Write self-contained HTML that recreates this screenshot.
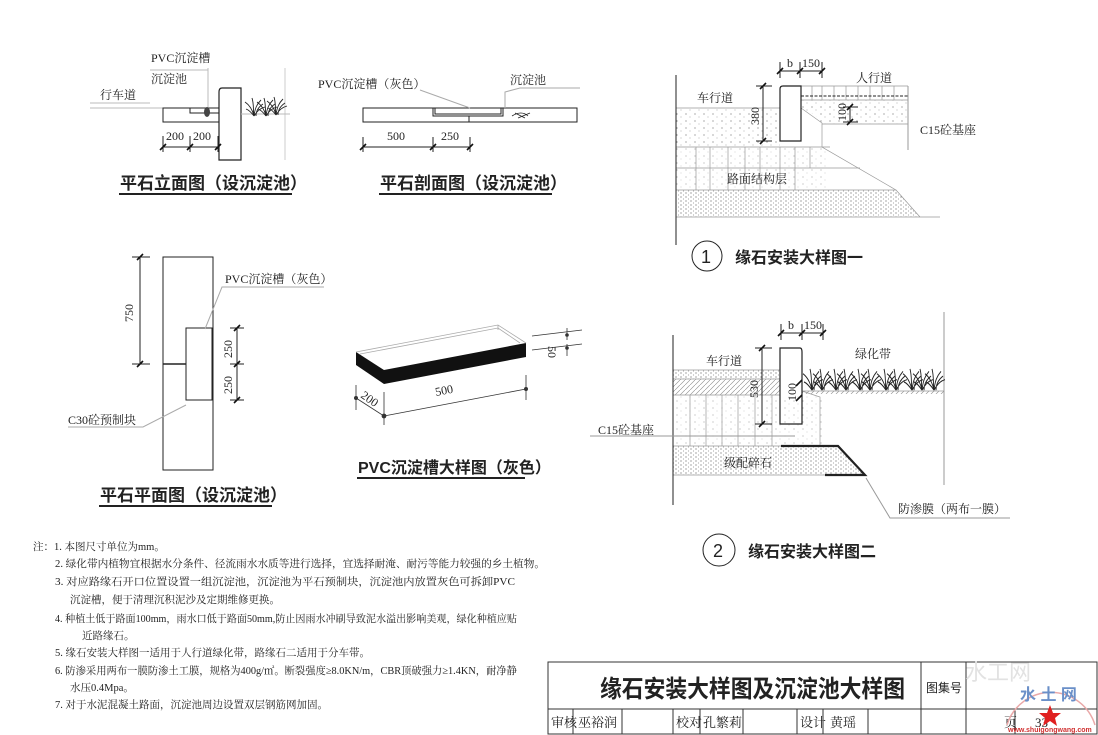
<!DOCTYPE html>
<html><head><meta charset="utf-8"><style>
html,body{margin:0;padding:0;background:#fff}
svg{display:block}
text{font-family:"Liberation Serif","Noto Serif CJK SC",serif;fill:#222}
.s{font-family:"Liberation Sans","Noto Sans CJK SC",sans-serif}
</style></head><body>
<svg width="1098" height="735" viewBox="0 0 1098 735" xmlns="http://www.w3.org/2000/svg">
<defs>
<pattern id="dots" width="9" height="7" patternUnits="userSpaceOnUse"><circle cx="2" cy="2" r="0.6" fill="#777"/><circle cx="6" cy="5" r="0.5" fill="#999"/></pattern>
<pattern id="dense" width="5" height="4" patternUnits="userSpaceOnUse"><circle cx="1" cy="1" r="0.6" fill="#666"/><circle cx="3.5" cy="3" r="0.5" fill="#888"/></pattern>
<pattern id="hatch" width="5" height="5" patternUnits="userSpaceOnUse"><path d="M0 5L5 0" stroke="#888" stroke-width="0.6"/></pattern>
<g id="tick"><path d="M-3 3L3 -3" stroke="#111" stroke-width="1.6"/></g>
<g id="grass" stroke="#222" stroke-width="0.9" fill="none"><path d="M0 0C-2-8-6-12-9-14M0 0C1-8 3-12 7-16M0 0C-1-6 0-12-2-18M0 0C3-5 7-8 11-9M0 0C-3-4-5-6-8-7M2 0C2-6 6-10 9-12"/></g>
</defs>

<!-- Fig 1 -->
<g fill="none" stroke="#222" stroke-width="1">
<line x1="90" y1="108" x2="163" y2="108" stroke="#bbb"/>
<rect x="163" y="108" width="56" height="14"/>
<path d="M190 108V113H219" />
<path d="M222 88H241V160H219V92Q219 88 222 88Z" stroke-width="1.2"/>
<line x1="150" y1="103" x2="90" y2="103" stroke="#bbb"/>
<line x1="208" y1="68" x2="208" y2="108" stroke="#bbb"/>
<line x1="150" y1="70" x2="208" y2="70" stroke="#bbb"/>
<line x1="163" y1="147" x2="218" y2="147"/>
<line x1="163" y1="136" x2="163" y2="152"/><line x1="190" y1="136" x2="190" y2="152"/><line x1="218" y1="136" x2="218" y2="152"/>
<line x1="285" y1="68" x2="285" y2="160" stroke="#ccc"/>
<line x1="241" y1="114" x2="290" y2="114" stroke="#bbb"/>
</g>
<ellipse cx="207" cy="112" rx="3" ry="5" fill="#444"/>
<use href="#tick" x="163" y="147"/><use href="#tick" x="190" y="147"/><use href="#tick" x="218" y="147"/>
<use href="#grass" x="254" y="116"/><use href="#grass" x="266" y="116"/><use href="#grass" x="276" y="115"/>
<text x="151" y="62" font-size="12">PVC沉淀槽</text>
<text x="151" y="83" font-size="12">沉淀池</text>
<text x="100" y="99" font-size="12">行车道</text>
<text x="166" y="140" font-size="12">200</text><text x="193" y="140" font-size="12">200</text>
<text x="120" y="189" font-size="17" class="s" font-weight="bold">平石立面图（设沉淀池）</text>
<line x1="119" y1="194" x2="292" y2="194" stroke="#222" stroke-width="2"/>

<!-- Fig 2 -->
<g fill="none" stroke="#222" stroke-width="1">
<rect x="363" y="108" width="214" height="14"/>
<path d="M433 108V116H503V108"/><path d="M435 108V114H501V108"/>
<line x1="469" y1="116" x2="469" y2="122"/>
<line x1="363" y1="147" x2="470" y2="147"/>
<line x1="363" y1="137" x2="363" y2="152"/><line x1="433" y1="137" x2="433" y2="152"/><line x1="470" y1="137" x2="470" y2="152"/>
<path d="M420 90L470 108" stroke="#aaa"/><path d="M505 108V92L520 88H580" stroke="#aaa"/>
<path d="M515 113L525 118M518 118L530 113M512 116C518 112 524 112 528 116" stroke-width="0.8"/>
</g>
<use href="#tick" x="363" y="147"/><use href="#tick" x="433" y="147"/><use href="#tick" x="470" y="147"/>
<text x="318" y="88" font-size="12">PVC沉淀槽（灰色）</text>
<text x="510" y="84" font-size="12">沉淀池</text>
<text x="387" y="140" font-size="12">500</text><text x="441" y="140" font-size="12">250</text>
<text x="380" y="189" font-size="17" class="s" font-weight="bold">平石剖面图（设沉淀池）</text>
<line x1="379" y1="194" x2="552" y2="194" stroke="#222" stroke-width="2"/>

<!-- Fig 3 -->
<g fill="none" stroke="#222" stroke-width="1">
<rect x="163" y="257" width="50" height="213"/>
<rect x="186" y="328" width="26" height="72"/>
<line x1="163" y1="364" x2="186" y2="364" stroke-width="1.6"/>
<line x1="140" y1="257" x2="140" y2="364"/>
<line x1="132" y1="257" x2="150" y2="257"/><line x1="132" y1="364" x2="150" y2="364"/>
<line x1="237" y1="328" x2="237" y2="400"/>
<line x1="230" y1="328" x2="244" y2="328"/><line x1="230" y1="364" x2="244" y2="364"/><line x1="230" y1="400" x2="244" y2="400"/>
<path d="M205 329L222 287H324" stroke="#aaa"/>
<path d="M186 405L143 427H68" stroke="#aaa"/>
</g>
<use href="#tick" x="140" y="257"/><use href="#tick" x="140" y="364"/>
<use href="#tick" x="237" y="328"/><use href="#tick" x="237" y="364"/><use href="#tick" x="237" y="400"/>
<text x="225" y="283" font-size="12">PVC沉淀槽（灰色）</text>
<text font-size="12" transform="translate(133,322) rotate(-90)">750</text>
<text font-size="12" transform="translate(232,358) rotate(-90)">250</text>
<text font-size="12" transform="translate(232,394) rotate(-90)">250</text>
<text x="68" y="424" font-size="12">C30砼预制块</text>
<text x="100" y="501" font-size="17" class="s" font-weight="bold">平石平面图（设沉淀池）</text>
<line x1="99" y1="506" x2="272" y2="506" stroke="#222" stroke-width="2"/>

<!-- Fig 4 -->
<polygon points="356,352 384,370 384,384 356,365" fill="#111"/>
<polygon points="384,370 526,343 526,357 384,384" fill="#111"/>
<g fill="none" stroke="#aaa" stroke-width="0.8">
<path d="M356 352L498 325L526 343"/><path d="M360 354L498 328L520 343"/><path d="M498 325V330"/>
</g>
<g fill="none" stroke="#333" stroke-width="0.8">
<path d="M356 385V410M356 398L384 416M384 392V425M384 416L526 389M526 375V400"/>
<path d="M532 336L582 330M532 350L582 344M567 328V340M567 344V356"/>
</g>
<g fill="#333"><circle cx="356" cy="398" r="2"/><circle cx="384" cy="416" r="2.4"/><circle cx="526" cy="389" r="2"/><circle cx="567" cy="335" r="1.8"/><circle cx="567" cy="348" r="1.8"/></g>
<text font-size="12" transform="translate(360,397) rotate(35)">200</text>
<text font-size="12" transform="translate(436,396) rotate(-11)">500</text>
<text font-size="12" transform="translate(548,346) rotate(90)">50</text>
<text x="358" y="473" font-size="16" class="s" font-weight="bold">PVC沉淀槽大样图（灰色）</text>
<line x1="357" y1="478" x2="525" y2="478" stroke="#222" stroke-width="2"/>

<!-- Fig 5 -->
<rect x="676" y="108" width="104" height="39" fill="url(#dots)"/>
<rect x="676" y="147" width="150" height="43" fill="url(#dots)" opacity="0.6"/>
<polygon points="676,190 896,190 920,217 676,217" fill="url(#dense)"/>
<polygon points="801,100 908,100 908,124 822,124 815,115 801,108" fill="url(#dots)"/>
<g fill="none" stroke="#999" stroke-width="0.7">
<path d="M676 108H780M676 147H830M676 168H860M676 190H896L920 217M676 217H940"/>
<path d="M801 86H908M801 100H908M822 124H908"/>
<path d="M801 108L822 123V147L896 190"/>
<path d="M696 147V190M710 147V190M728 147V190M745 147V190M760 147V190M780 147V190M795 147V190M810 147V168"/>
<path d="M812 86V100M822 86V100M834 86V100M846 86V100M858 86V100M870 86V100M882 86V100M894 86V100"/>
</g>
<g fill="none" stroke="#222" stroke-width="1">
<path d="M676 75V245"/><path d="M908 86V150" stroke="#999"/>
<path d="M783 86H801V141H780V89Q780 86 783 86Z" stroke-width="1.2"/>
<path d="M801 96H908" stroke-dasharray="3 1.5"/>
<path d="M780 71H822M780 62V78M800 62V78M822 62V78"/>
<path d="M763 86V141M756 86H772M756 141H772"/>
<path d="M850 107V122M843 107H858M843 122H858"/>
</g>
<use href="#tick" x="780" y="71"/><use href="#tick" x="800" y="71"/><use href="#tick" x="822" y="71"/>
<use href="#tick" x="763" y="86"/><use href="#tick" x="763" y="141"/>
<use href="#tick" x="850" y="107"/><use href="#tick" x="850" y="122"/>
<text x="787" y="67" font-size="12">b</text><text x="802" y="67" font-size="12">150</text>
<text x="856" y="82" font-size="12">人行道</text>
<text x="697" y="102" font-size="12">车行道</text>
<text font-size="12" transform="translate(759,125) rotate(-90)">380</text>
<text font-size="12" transform="translate(846,121) rotate(-90)">100</text>
<text x="920" y="134" font-size="12">C15砼基座</text>
<text x="727" y="183" font-size="12">路面结构层</text>
<circle cx="707" cy="256" r="15" fill="none" stroke="#222" stroke-width="1"/>
<text x="701" y="263" font-size="18" class="s">1</text>
<text x="735" y="263" font-size="16" class="s" font-weight="bold">缘石安装大样图一</text>

<!-- Fig 6 -->
<rect x="673" y="370" width="107" height="9" fill="url(#dense)"/>
<rect x="673" y="379" width="107" height="16" fill="url(#hatch)"/>
<rect x="673" y="395" width="150" height="51" fill="url(#dots)" opacity="0.6"/>
<polygon points="673,446 838,446 865,475 673,475" fill="url(#dense)"/>
<rect x="802" y="391" width="142" height="3" fill="url(#hatch)"/>
<g fill="none" stroke="#999" stroke-width="0.7">
<path d="M673 370H780M673 379H780M673 395H780M673 446H781M673 475H838"/>
<path d="M690 395V446M706 395V446M722 395V446M738 395V446M755 395V446M772 395V446"/>
<path d="M802 391L820 397V446M802 391H944"/>
</g>
<g fill="none" stroke="#222" stroke-width="1">
<path d="M673 335V505"/><path d="M944 312V485" stroke="#999"/>
<path d="M780 348H800Q802 348 802 352V424H780Z" stroke-width="1.2"/>
<path d="M781 446H838L865 475H825" stroke-width="2.2"/>
<path d="M590 436H795" stroke="#999"/>
<path d="M866 478L890 518H1010" stroke="#999"/>
<path d="M781 333H823M781 324V340M802 324V340M823 324V340"/>
<path d="M762 348V424M755 348H772M755 424H772"/>
</g>
<use href="#tick" x="781" y="333"/><use href="#tick" x="802" y="333"/><use href="#tick" x="823" y="333"/>
<use href="#tick" x="762" y="348"/><use href="#tick" x="762" y="424"/>
<use href="#tick" x="799" y="383"/><use href="#tick" x="799" y="398"/>
<g transform="translate(0,-70) scale(1,1.18)">
<use href="#grass" x="812" y="390"/><use href="#grass" x="822" y="390"/><use href="#grass" x="836" y="390"/><use href="#grass" x="846" y="390"/><use href="#grass" x="860" y="390"/><use href="#grass" x="870" y="390"/><use href="#grass" x="886" y="390"/><use href="#grass" x="896" y="390"/><use href="#grass" x="912" y="390"/><use href="#grass" x="922" y="390"/><use href="#grass" x="934" y="390"/>
</g>
<text x="788" y="329" font-size="12">b</text><text x="804" y="329" font-size="12">150</text>
<text x="706" y="365" font-size="12">车行道</text>
<text x="855" y="358" font-size="12">绿化带</text>
<text font-size="12" transform="translate(758,398) rotate(-90)">530</text>
<text font-size="12" transform="translate(796,401) rotate(-90)">100</text>
<text x="598" y="434" font-size="12">C15砼基座</text>
<text x="724" y="467" font-size="12">级配碎石</text>
<text x="898" y="513" font-size="12">防渗膜（两布一膜）</text>
<circle cx="719" cy="550" r="16" fill="none" stroke="#222" stroke-width="1"/>
<text x="713" y="557" font-size="18" class="s">2</text>
<text x="748" y="557" font-size="16" class="s" font-weight="bold">缘石安装大样图二</text>

<!-- Notes -->
<g font-size="10.5">
<text x="33" y="550">注：1. 本图尺寸单位为mm。</text>
<text x="55" y="567" textLength="490" lengthAdjust="spacingAndGlyphs">2. 绿化带内植物宜根据水分条件、径流雨水水质等进行选择，宜选择耐淹、耐污等能力较强的乡土植物。</text>
<text x="55" y="585" textLength="460" lengthAdjust="spacingAndGlyphs">3. 对应路缘石开口位置设置一组沉淀池，沉淀池为平石预制块，沉淀池内放置灰色可拆卸PVC</text>
<text x="70" y="603">沉淀槽，便于清理沉积泥沙及定期维修更换。</text>
<text x="55" y="622" textLength="462" lengthAdjust="spacingAndGlyphs">4. 种植土低于路面100mm，雨水口低于路面50mm,防止因雨水冲刷导致泥水溢出影响美观，绿化种植应贴</text>
<text x="82" y="639">近路缘石。</text>
<text x="55" y="656">5. 缘石安装大样图一适用于人行道绿化带，路缘石二适用于分车带。</text>
<text x="55" y="674" textLength="462" lengthAdjust="spacingAndGlyphs">6. 防渗采用两布一膜防渗土工膜，规格为400g/㎡。断裂强度≥8.0KN/m，CBR顶破强力≥1.4KN，耐净静</text>
<text x="70" y="691">水压0.4Mpa。</text>
<text x="55" y="708">7. 对于水泥混凝土路面，沉淀池周边设置双层钢筋网加固。</text>
</g>

<!-- Title block -->
<g fill="none" stroke="#333" stroke-width="1">
<rect x="548" y="662" width="549" height="72"/>
<line x1="548" y1="709" x2="1097" y2="709"/>
<line x1="921" y1="662" x2="921" y2="734"/><line x1="966" y1="662" x2="966" y2="734"/>
<line x1="573" y1="709" x2="573" y2="734"/><line x1="622" y1="709" x2="622" y2="734"/>
<line x1="673" y1="709" x2="673" y2="734"/><line x1="700" y1="709" x2="700" y2="734"/>
<line x1="743" y1="709" x2="743" y2="734"/><line x1="797" y1="709" x2="797" y2="734"/>
<line x1="823" y1="709" x2="823" y2="734"/><line x1="868" y1="709" x2="868" y2="734"/>
<line x1="1015" y1="709" x2="1015" y2="734"/>
</g>
<text x="965" y="680" font-size="22" fill="#e2e2e2" style="fill:#e2e2e2" class="s">水工网</text>
<text x="600" y="697" font-size="24" class="s" font-weight="bold" textLength="305" lengthAdjust="spacingAndGlyphs">缘石安装大样图及沉淀池大样图</text>
<text x="926" y="692" font-size="12" class="s">图集号</text>
<g font-size="13">
<text x="551" y="727">审核</text><text x="578" y="727">巫裕润</text>
<text x="676" y="727">校对</text><text x="703" y="727">孔繁莉</text>
<text x="800" y="727">设计</text><text x="830" y="727">黄瑶</text>
<text x="1004" y="727">页</text><text x="1035" y="727">33</text>
</g>
<path d="M1007 725A46 46 0 0 1 1095 725" fill="none" stroke="#e9a8a8" stroke-width="1.5"/>
<text x="1020" y="700" font-size="16" style="fill:#6a8fc8" class="s" font-weight="bold">水 土 网</text>
<polygon points="1050,705 1053,713 1061,713 1055,718 1057,726 1050,721 1043,726 1045,718 1039,713 1047,713" fill="#e02020"/>
<text x="1008" y="732" font-size="7" style="fill:#d03030" class="s" font-weight="bold">www.shuigongwang.com</text>
</svg>
</body></html>
